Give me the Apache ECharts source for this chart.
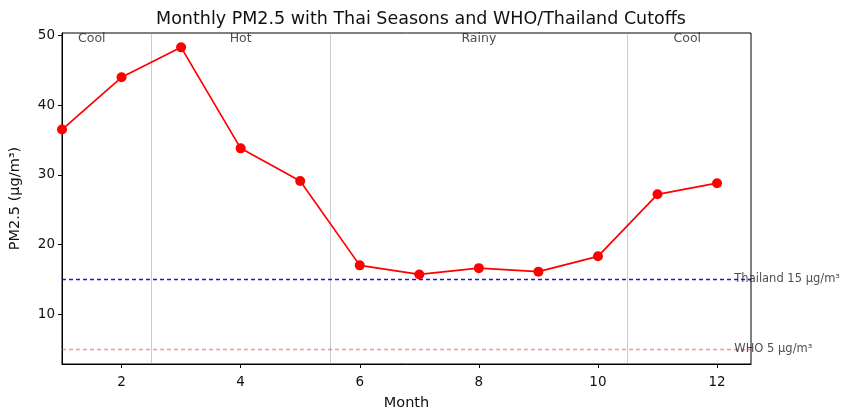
<!DOCTYPE html>
<html><head><meta charset="utf-8">
<script src="https://cdn.jsdelivr.net/npm/echarts@6/dist/echarts.min.js"></script>
<style>html,body{margin:0;padding:0;background:#fff}#c{width:842px;height:412px}</style>
</head><body><div id="c"></div>
<script>
const months = [1,2,3,4,5,6,7,8,9,10,11,12];
const pm25 = [36.5, 44.0, 48.3, 33.8, 29.1, 17.0, 15.7, 16.6, 16.1, 18.3, 27.2, 28.8];
const seasonBounds = [2.5, 5.5, 10.5];
const seasonNames = ['Cool','Hot','Rainy','Cool'];
const seasonCenters = [1.5, 4, 8, 11.5];
const thresholds = [{name:'Thailand 15 µg/m³', value:15, color:'rgba(0,0,230,0.9)'},
                    {name:'WHO 5 µg/m³', value:5, color:'rgba(255,60,60,0.55)'}];
const xTicks = [2,4,6,8,10,12];
const yTicks = [10,20,30,40,50];
const yMin = 2.84, yMax = 50.36, xMin = 1, xMax = 12.57;

const font = 'DejaVu Sans';
const chart = echarts.init(document.getElementById('c'));
chart.setOption({
  animation:false,
  title:{text:'Monthly PM2.5 with Thai Seasons and WHO/Thailand Cutoffs', left:'center', top:5,
    textStyle:{fontFamily:font, fontSize:17.5, fontWeight:'normal', color:'#111'}},
  grid:{left:62, right:91, top:33, bottom:48, containLabel:false, outerBoundsMode:'none',
    show:true, borderColor:'#000', borderWidth:1, backgroundColor:'transparent'},
  xAxis:{type:'value', min:xMin, max:xMax, interval:1,
    name:'Month', nameLocation:'middle', nameGap:32,
    nameTextStyle:{fontFamily:font, fontSize:14.5, color:'#111'},
    axisLine:{show:true, onZero:false, lineStyle:{color:'#000', width:1}},
    axisTick:{show:true, length:4, lineStyle:{color:'#000'}, customValues:xTicks},
    axisLabel:{fontFamily:font, fontSize:13.5, color:'#111', customValues:xTicks, margin:11},
    splitLine:{show:false}},
  yAxis:{type:'value', min:yMin, max:yMax,
    name:'PM2.5 (µg/m³)', nameLocation:'middle', nameGap:39,
    nameTextStyle:{fontFamily:font, fontSize:14.5, color:'#111'},
    axisLine:{show:true, onZero:false, lineStyle:{color:'#000', width:1}},
    axisTick:{show:true, length:4, lineStyle:{color:'#000'}, customValues:yTicks},
    axisLabel:{fontFamily:font, fontSize:13.5, color:'#111', customValues:yTicks, margin:7},
    splitLine:{show:false}},
  series:[
    {type:'line', data:months.map((m,i)=>[m,pm25[i]]), z:5,
     lineStyle:{color:'#ff0000', width:1.7}, itemStyle:{color:'#ff0000'},
     symbol:'circle', symbolSize:10, showSymbol:true,
     markLine:{silent:true, symbol:['none','none'], label:{show:false}, z:2,
       data:[
         ...seasonBounds.map(b=>({xAxis:b, lineStyle:{color:'rgba(160,160,160,0.6)', width:0.9, type:'solid'}})),
         ...thresholds.map(t=>({yAxis:t.value, lineStyle:{color:t.color, width:1.3, type:[4,3]}}))
       ]}},
    {type:'scatter', symbolSize:0, silent:true,
     data:seasonNames.map((s,i)=>({value:[seasonCenters[i], yMax], name:s})),
     label:{show:true, position:'bottom', distance:-1, formatter:p=>p.name,
       fontFamily:font, fontSize:12.5, color:'#222'}},
    {type:'scatter', symbolSize:0, silent:true,
     data:thresholds.map(t=>({value:[12.29, t.value], name:t.name})),
     label:{show:true, position:'right', distance:0, formatter:p=>p.name,
       fontFamily:font, fontSize:11.5, color:'#222'}}
  ]
});
</script></body></html>
